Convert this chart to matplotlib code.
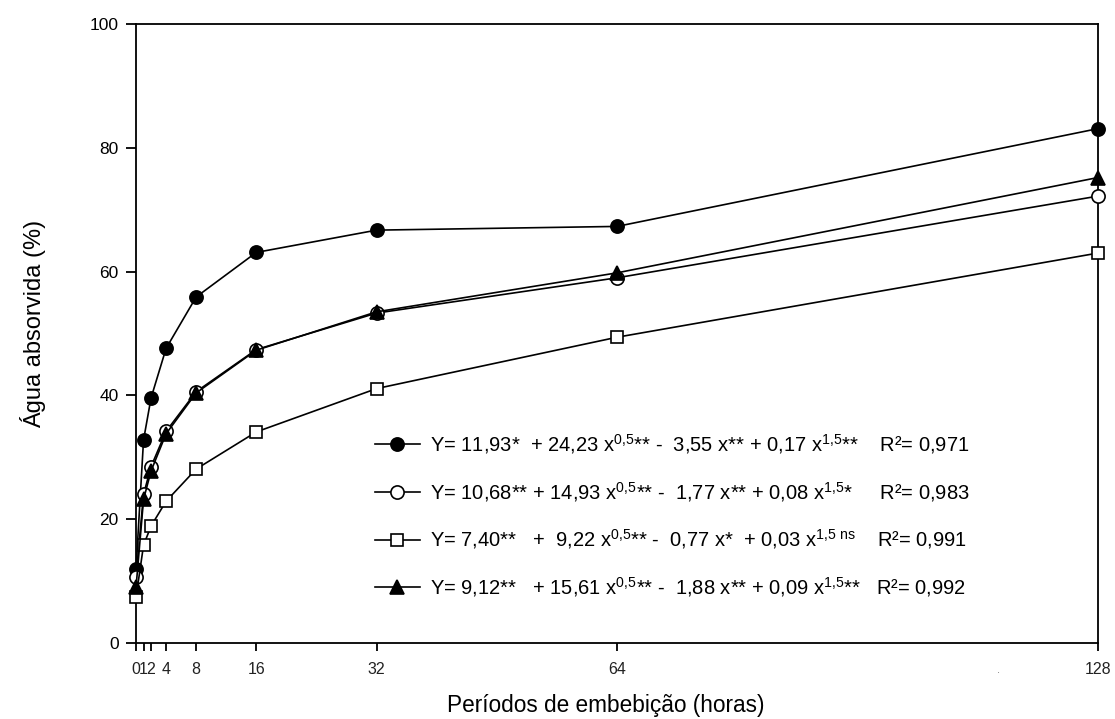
import numpy as np
import matplotlib
matplotlib.use("Agg")
import matplotlib.pyplot as plt
from matplotlib.lines import Line2D

plt.rcParams['font.family'] = ['Liberation Sans', 'DejaVu Sans']
plt.rcParams['mathtext.fontset'] = 'custom'
plt.rcParams['mathtext.rm'] = 'Liberation Sans'
plt.rcParams['mathtext.it'] = 'Liberation Sans'

# periodos de embebicao (horas)
horas = [0, 1, 2, 4, 8, 16, 32, 64, 128]
# agua absorvida (%) por tratamento
serie_cheio = [12.0, 32.8, 39.6, 47.6, 55.9, 63.1, 66.7, 67.3, 83.1]
serie_aberto = [10.7, 24.0, 28.5, 34.2, 40.6, 47.4, 53.3, 59.0, 72.2]
serie_quadrado = [7.4, 15.8, 18.9, 22.9, 28.1, 34.1, 41.1, 49.4, 63.0]
serie_triangulo = [9.0, 23.2, 27.8, 33.8, 40.4, 47.3, 53.5, 59.8, 75.2]

equacoes = [
    r'Y= 11,93*  + 24,23 x$^{0{,}5}$** -  3,55 x** + 0,17 x$^{1{,}5}$**    R²= 0,971',
    r'Y= 10,68** + 14,93 x$^{0{,}5}$** -  1,77 x** + 0,08 x$^{1{,}5}$*     R²= 0,983',
    r'Y= 7,40**   +  9,22 x$^{0{,}5}$** -  0,77 x*  + 0,03 x$^{1{,}5\ ns}$    R²= 0,991',
    r'Y= 9,12**   + 15,61 x$^{0{,}5}$** -  1,88 x** + 0,09 x$^{1{,}5}$**   R²= 0,992',
]

fig = plt.figure(figsize=(11.15, 7.19), dpi=100)
ax = fig.add_axes([0.122, 0.1057, 0.8628, 0.8609])

estilos = [
    (serie_cheio, dict(marker='o', mfc='black', ms=9.5)),
    (serie_aberto, dict(marker='o', mfc='white', ms=9.5)),
    (serie_quadrado, dict(marker='s', mfc='white', ms=8.5)),
    (serie_triangulo, dict(marker='^', mfc='black', ms=9.5)),
]
handles = []
for serie, st in estilos:
    ax.plot(horas, serie, color='black', lw=1.2, mec='black', mew=1.2,
            clip_on=False, zorder=3, **st)
    handles.append(Line2D([], [], color='black', lw=1.2, mec='black', mew=1.2, **st))

ax.set_xlim(0, 128)
ax.set_ylim(0, 100)
ax.set_xticks(horas)
ax.set_xticklabels([str(h) for h in horas], fontsize=11.5, color='#222222')
ax.set_yticks([0, 20, 40, 60, 80, 100])
ax.tick_params(axis='y', labelsize=12.5, length=7, width=1.3, direction='out', pad=5.5)
ax.tick_params(axis='x', length=6, width=1.3, direction='out', pad=8)
for s in ax.spines.values():
    s.set_linewidth(1.3)

ax.set_xlabel('Períodos de embebição (horas)', fontsize=16.3, va='baseline')
ax.xaxis.set_label_coords(0.4886, -0.112)
ax.set_ylabel('Água absorvida (%)', fontsize=17, va='center')
ax.yaxis.set_label_coords(-0.107, 0.515)

ax.legend(handles, equacoes, loc='center left', bbox_to_anchor=(0.248, 0.206),
          frameon=False, fontsize=14.5, handlelength=2.24, handletextpad=0.5,
          labelspacing=1.19, borderpad=0, borderaxespad=0)

fig.text(0.894, 1 - 673 / 719, '.', fontsize=8, color='#777777')

fig.savefig('out.png', dpi=100)
